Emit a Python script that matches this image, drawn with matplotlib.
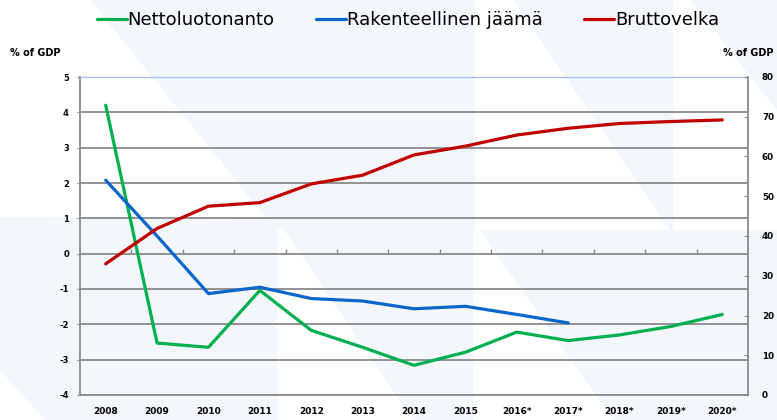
import matplotlib
matplotlib.use("Agg")
import matplotlib.pyplot as plt
from matplotlib.patches import Polygon
import numpy as np

years = ["2008", "2009", "2010", "2011", "2012", "2013", "2014", "2015",
         "2016*", "2017*", "2018*", "2019*", "2020*"]
netto = [4.2, -2.53, -2.65, -1.04, -2.17, -2.65, -3.16, -2.79, -2.22, -2.46, -2.30, -2.06, -1.72]
rakenne = [2.08, 0.5, -1.13, -0.95, -1.27, -1.34, -1.56, -1.49, -1.72, -1.96]
brutto = [33.0, 41.9, 47.5, 48.4, 53.1, 55.3, 60.4, 62.6, 65.4, 67.1, 68.3, 68.8, 69.2]
left_ticks = [5, 4, 3, 2, 1, 0, -1, -2, -3, -4]
right_ticks = [80, 70, 60, 50, 40, 30, 20, 10, 0]
labels = ["Nettoluotonanto", "Rakenteellinen jäämä", "Bruttovelka"]

plt.rcParams['font.family'] = ['DejaVu Sans']
W, H = 777, 420
fig = plt.figure(figsize=(W / 100, H / 100), dpi=100)
fig.patch.set_facecolor("#f3f6fa")


def px_poly(pts, color, z):
    p = [(x / W, 1 - y / H) for x, y in pts]
    fig.add_artist(Polygon(p, closed=True, transform=fig.transFigure,
                           facecolor=color, edgecolor="none", zorder=z))


# faint decorative background (white stripes on pale blue)
for pts in [
    [(0, 0), (90, 0), (268, 220), (0, 217)],
    [(277, 228), (283, 228), (413, 420), (277, 420)],
    [(473, 230), (480, 230), (613, 420), (473, 420)],
    [(475, 0), (513, 0), (670, 230), (475, 230)],
    [(673, 0), (690, 0), (777, 110), (777, 230), (673, 230)],
    [(0, 370), (0, 420), (45, 420)],
]:
    px_poly(pts, "white", -9)

ax = fig.add_axes([80 / W, 1 - 395 / H, 668 / W, 318 / H])
ax.set_facecolor("none")
x = np.arange(len(years))
ax.set_xlim(-0.5, len(years) - 0.5)
ax.set_ylim(-4, 5)
ax.set_yticks(left_ticks)
ax.set_yticklabels([str(t) for t in left_ticks], fontsize=6, fontweight="bold")
ax.yaxis.grid(True, color="#8a8a8a", lw=1.3)
ax.set_axisbelow(True)
ax.set_xticks(x)
ax.set_xticklabels(years, fontsize=6.5, fontweight="bold")
ax.tick_params(axis="x", length=0, pad=9)
ax.tick_params(axis="y", length=2, color="#8a8a8a", pad=6)
for s in ["left", "bottom", "right"]:
    ax.spines[s].set_color("#8a8a8a")
    ax.spines[s].set_linewidth(1.3)
ax.spines["top"].set_color("#a9c1ea")
ax.spines["top"].set_linewidth(1.0)
# category boundary ticks on the zero line
ax.vlines(np.arange(len(years) - 1) + 0.5, 0, 0.12, color="#8a8a8a", lw=1.0, zorder=1)

ax2 = ax.twinx()
ax2.set_ylim(0, 80)
ax2.set_yticks(right_ticks)
ax2.set_yticklabels([str(t) for t in right_ticks], fontsize=6.3, fontweight="bold")
ax2.tick_params(axis="y", direction="in", length=3, color="#8a8a8a", pad=10)
for s in ["left", "bottom", "right", "top"]:
    ax2.spines[s].set_visible(False)

l1, = ax.plot(x, netto, color="#00b050", lw=2.3, solid_capstyle="round", zorder=3)
l2, = ax.plot(x[:len(rakenne)], rakenne, color="#0a66cc", lw=2.3, solid_capstyle="round", zorder=3)
l3, = ax2.plot(x, brutto, color="#c00000", lw=2.3, solid_capstyle="round", zorder=3)

fig.legend([l1, l2, l3], labels, loc="center", bbox_to_anchor=(408 / W, 1 - 20 / H),
           ncol=3, frameon=False, fontsize=13,
           handlelength=1.65, handletextpad=0.05, columnspacing=2.3)

fig.text(10 / W, 1 - 53 / H, "% of GDP", fontsize=7, fontweight="bold", ha="left", va="center")
fig.text(723 / W, 1 - 53 / H, "% of GDP", fontsize=7, fontweight="bold", ha="left", va="center")

fig.savefig("out.png", dpi=100)
